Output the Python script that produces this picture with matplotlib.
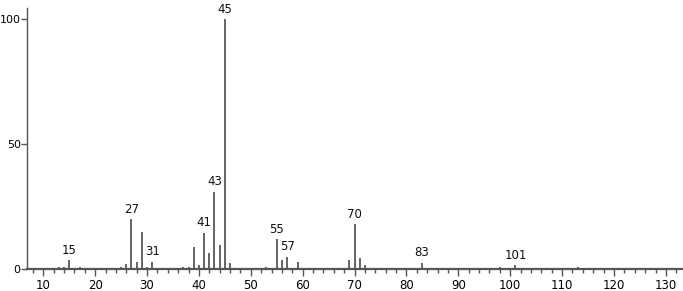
import numpy as np
import matplotlib.pyplot as plt
from matplotlib.ticker import MultipleLocator

# m/z and relative intensity
mz = [12, 13, 14, 15, 16, 17, 18, 19, 25, 26, 27, 28, 29, 30, 31, 32, 33,
      36, 37, 38, 39, 40, 41, 42, 43, 44, 45, 46, 53, 54, 55, 56, 57, 58, 59,
      61, 62, 63, 65, 67, 68, 69, 70, 71, 72, 73, 74, 77, 79, 81, 83, 84, 85,
      87, 96, 97, 98, 99, 101, 102, 112, 113, 114, 115, 116]
intensity = [0.6, 0.8, 0.8, 3.5, 0.6, 0.7, 0.6, 0.5, 0.8, 2.0, 20.0, 3.0, 15.0, 0.8, 3.0, 0.6, 0.5,
             0.6, 0.7, 0.7, 9.0, 1.5, 14.5, 6.5, 31.0, 9.5, 100.0, 2.5, 1.0, 0.6, 12.0, 3.5, 5.0, 0.6, 3.0,
             0.5, 0.5, 0.5, 0.5, 0.5, 0.6, 3.5, 18.0, 4.5, 1.5, 0.6, 0.6, 0.5, 0.5, 0.5, 2.5, 0.5, 0.5,
             0.5, 0.5, 0.6, 0.8, 0.6, 1.5, 0.6, 0.6, 0.7, 0.6, 0.5, 0.5]
labelled = [15, 27, 31, 41, 43, 45, 55, 57, 70, 83, 101]

fig = plt.figure(figsize=(6.83, 2.91), dpi=100)
ax = fig.add_axes([0.0395, 0.0756, 0.9605, 0.8974])

ax.vlines(mz, 0, intensity, color='#3a3a3a', linewidth=1.1)
for m, v in zip(mz, intensity):
    if m in labelled:
        ax.text(m, v + 1.4, str(m), ha='center', va='bottom', fontsize=8.5, color='#111111')

ax.set_xlim(6.86, 133.3)
ax.set_ylim(0, 104.6)
ax.xaxis.set_major_locator(MultipleLocator(10))
ax.xaxis.set_minor_locator(MultipleLocator(2))
ax.set_yticks([0, 50, 100])

for s in ['top', 'right']:
    ax.spines[s].set_visible(False)
for s in ['left', 'bottom']:
    ax.spines[s].set_color('#555555')
ax.spines['left'].set_linewidth(1.0)
ax.spines['bottom'].set_linewidth(1.6)

ax.tick_params(axis='x', which='major', length=5, width=1, color='#555555', labelsize=8.5, pad=2)
ax.tick_params(axis='x', which='minor', length=3, width=1, color='#555555')
ax.tick_params(axis='y', which='major', length=4, width=1, color='#555555', labelsize=8, pad=0.5)

fig.savefig('out.png', dpi=100)
